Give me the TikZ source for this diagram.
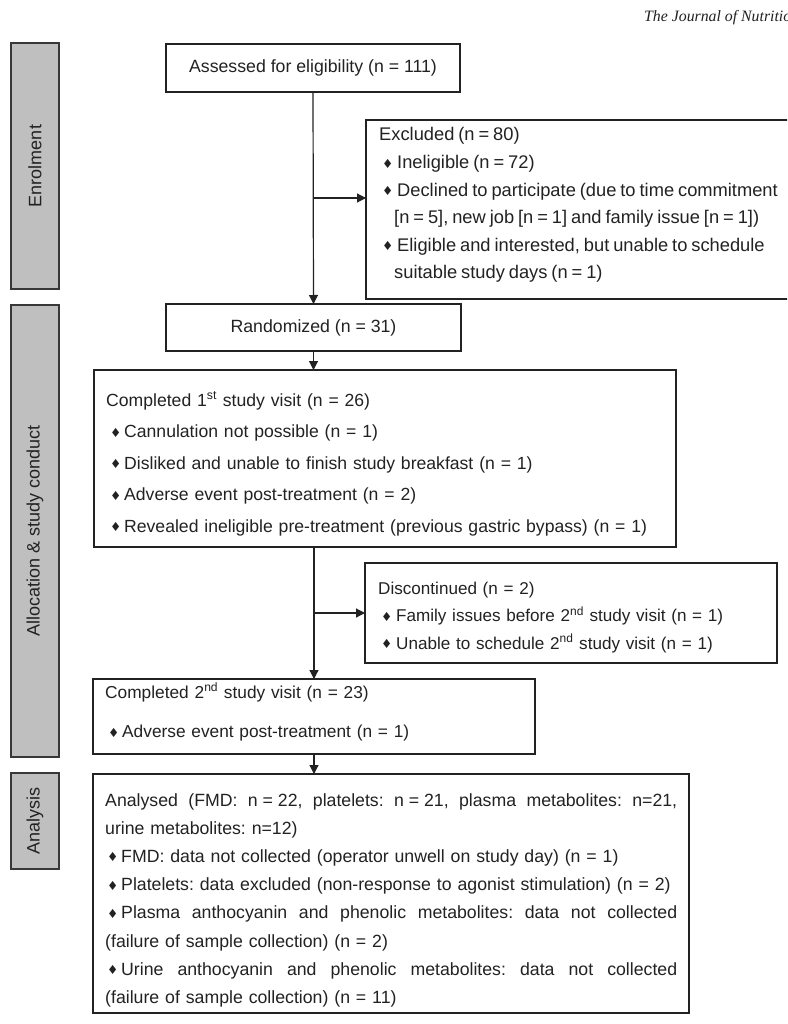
\documentclass[tikz,border=0pt]{standalone}
\usepackage{fontspec}
\setmainfont{Liberation Sans}
\newfontfamily\dejavu{DejaVu Sans}
\newfontfamily\serifj{Liberation Serif}
\usetikzlibrary{arrows.meta}
\definecolor{barfill}{HTML}{BFBFBF}
\definecolor{ink}{HTML}{222222}
\newcommand\dia[1]{\makebox[#1][l]{\raisebox{0.5pt}{\dejavu\fontsize{12.5}{12.5}\selectfont ♦}}}
\newcommand\jline[1]{\makebox[572pt][s]{\spaceskip=0.278em plus 1fil\xspaceskip=\spaceskip #1}}
\begin{document}
\frenchspacing
\begin{tikzpicture}[x=1pt,y=-1pt,
  box/.style={draw=ink, line width=1.2pt, fill=white, inner sep=0pt, outer sep=0pt, anchor=north west},
  bar/.style={draw=ink!90, line width=1.2pt, fill=barfill, inner sep=0pt, outer sep=0pt, anchor=north west},
  bartxt/.style={rotate=90, font=\fontsize{18}{18}\selectfont, text=ink, inner sep=0pt},
  txt/.style={anchor=base west, inner sep=0pt, align=left, text=ink},
  ctxt/.style={inner sep=0pt, text=ink, font=\fontsize{17.7}{20}\selectfont},
  arr/.style={draw=ink, line width=1.2pt, -{Triangle[width=9pt,length=9pt]}}]
\useasboundingbox (0,0) rectangle (787,1024);
\clip (0,0) rectangle (787,1024);
\fill[white] (0,0) rectangle (787,1024);

% header
\node[anchor=base west, inner sep=0pt, text=ink, font=\serifj\itshape\fontsize{15.8}{16}\selectfont] (jn) at (644,22) {The Journal of Nutrition};

% side bars
\node[bar, minimum width=48pt, minimum height=246pt] (b1) at (11,43) {};
\node[bartxt] (b1t) at (b1.center) {Enrolment};
\node[bar, minimum width=48pt, minimum height=452pt] (b2) at (11,305) {};
\node[bartxt] (b2t) at (b2.center) {Allocation \& study conduct};
\node[bar, minimum width=48pt, minimum height=96pt] (b3) at (11,773) {};
\node[bartxt] (b3t) at (b3.center) {Analysis};

% boxes
\node[box, minimum width=294pt, minimum height=48pt] (ass) at (166,44) {};
\node[ctxt] (asst) at (ass.center) {Assessed for eligibility (n = 111)};

\node[box, minimum width=440pt, minimum height=179pt] (exc) at (366,120) {};
\node[txt, text width=430pt, font=\fontsize{18.3}{27.6}\selectfont] (exct) at (379,141) {%
\spaceskip=0.215em\relax
Excluded (n = 80)\\
\hspace*{3pt}\dia{15pt}Ineligible (n = 72)\\
\hspace*{3pt}\dia{15pt}Declined to participate (due to time commitment\\
\hspace*{15pt}[n = 5], new job [n = 1] and family issue [n = 1])\\
\hspace*{3pt}\dia{15pt}Eligible and interested, but unable to schedule\\
\hspace*{15pt}suitable study days (n = 1)};

\node[box, minimum width=295pt, minimum height=47pt] (ran) at (166,304) {};
\node[ctxt] (rant) at (ran.center) {Randomized (n = 31)};

\node[box, minimum width=582pt, minimum height=177pt] (v1) at (94,370) {};
\node[txt, text width=560pt, font=\fontsize{17.6}{31.6}\selectfont] (v1t) at (106,406) {%
Completed 1\textsuperscript{st} study visit (n = 26)\\
\hspace*{4pt}\dia{14pt}Cannulation not possible (n = 1)\\
\hspace*{4pt}\dia{14pt}Disliked and unable to finish study breakfast (n = 1)\\
\hspace*{4pt}\dia{14pt}Adverse event post-treatment (n = 2)\\
\hspace*{4pt}\dia{14pt}Revealed ineligible pre-treatment (previous gastric bypass) (n = 1)};

\node[box, minimum width=412pt, minimum height=100pt] (dis) at (365,563) {};
\node[txt, text width=400pt, font=\fontsize{17.1}{27.5}\selectfont] (dist) at (378,594) {%
Discontinued (n = 2)\\
\hspace*{3pt}\dia{15pt}Family issues before 2\textsuperscript{nd} study visit (n = 1)\\
\hspace*{3pt}\dia{15pt}Unable to schedule 2\textsuperscript{nd} study visit (n = 1)};

\node[box, minimum width=442pt, minimum height=75pt] (v2) at (93,679) {};
\node[txt, text width=420pt, font=\fontsize{17.3}{39.5}\selectfont] (v2t) at (105,698) {%
Completed 2\textsuperscript{nd} study visit (n = 23)\\
\hspace*{3pt}\dia{14pt}Adverse event post-treatment (n = 1)};

\node[box, minimum width=596pt, minimum height=239pt] (an) at (93,774) {};
\node[txt, text width=575pt, font=\fontsize{17.7}{28.2}\selectfont] (ant) at (105,806) {%
\jline{Analysed (FMD: \mbox{n = 22,} platelets: \mbox{n = 21,} plasma metabolites: n=21,}\\
urine metabolites: n=12)\\
\hspace*{2pt}\dia{14pt}FMD: data not collected (operator unwell on study day) (n = 1)\\
\hspace*{2pt}\dia{14pt}Platelets: data excluded (non-response to agonist stimulation) (n = 2)\\
\jline{\hspace*{2pt}\dia{14pt}Plasma anthocyanin and phenolic metabolites: data not collected}\\
(failure of sample collection) (n = 2)\\
\jline{\hspace*{2pt}\dia{14pt}Urine anthocyanin and phenolic metabolites: data not collected}\\
(failure of sample collection) (n = 11)};

% connectors
\coordinate (br1) at (ass.south |- 0,198);
\draw[arr] (ass.south) -- (ran.north);
\draw[arr] (br1) -- (br1 -| exc.west);
\draw[arr] (ran.south) -- (ran.south |- v1.north);
\draw[arr] (v1.south -| v2.north) -- (v2.north);
\draw[arr] (dis.west -| v2.north) -- (dis.west);
\draw[arr] (v2.south) -- (v2.south |- an.north);
\end{tikzpicture}
\end{document}
